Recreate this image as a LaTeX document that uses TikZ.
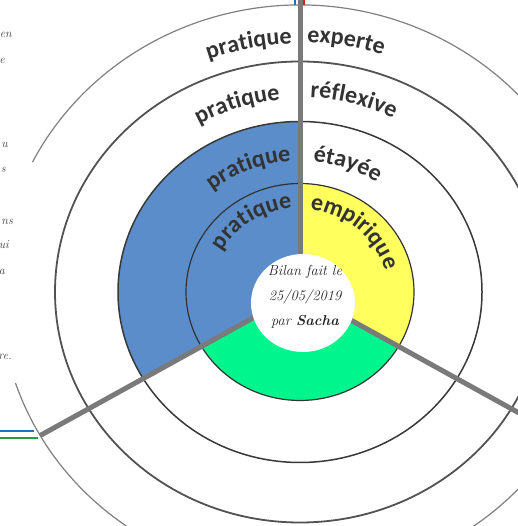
\documentclass[tikz,border=0pt]{standalone}
\usepackage{fontspec}
\setsansfont{Carlito}
\usetikzlibrary{calc,decorations.text}
\definecolor{bluefill}{HTML}{5B8DCA}
\definecolor{yellowfill}{HTML}{FFFF5E}
\definecolor{greenfill}{HTML}{00F58C}
\definecolor{txt}{HTML}{333333}
\definecolor{divgray}{HTML}{7A7A7A}
\definecolor{lineblue}{HTML}{2070C0}
\definecolor{linegreen}{HTML}{20A040}
\definecolor{linered}{HTML}{D02020}
\newcommand{\lblfont}{\sffamily\bfseries\fontsize{24}{28}\selectfont}
\tikzset{
  ringone/.style={draw=black!80, line width=1.2pt},
  ringtwo/.style={draw=black!78, line width=1.5pt},
  ringthree/.style={draw=black!68, line width=1.8pt},
  ringfour/.style={draw=black!50, line width=1.2pt},
  divider/.style={draw=divgray, line width=5pt},
  frag/.style={font=\itshape\fontsize{12}{14}\selectfont, text=black!75, anchor=east, inner sep=0pt},
  lblleft/.style 2 args={decorate, decoration={text along path, text={|\lblfont|#1}, text color=txt, text align={right, right indent=#2}}},
  lblright/.style 2 args={decorate, decoration={text along path, text={|\lblfont|#1}, text color=txt, text align={left, left indent=#2}}},
}
\begin{document}
\begin{tikzpicture}[x=1pt,y=1pt]
\useasboundingbox (0,0) rectangle (517,526);
\fill[white] (0,0) rectangle (517,526);
\coordinate (C) at (300,234);
% fills
\fill[bluefill] (C) -- ($(C)+(90:182pt and 170.5pt)$) arc[start angle=90,end angle=210,x radius=182pt,y radius=170.5pt] -- cycle;
\fill[yellowfill] (C) -- ($(C)+(-30:114pt and 108.5pt)$) arc[start angle=-30,end angle=90,x radius=114pt,y radius=108.5pt] -- cycle;
\fill[greenfill] (C) -- ($(C)+(210:114pt and 108.5pt)$) arc[start angle=210,end angle=330,x radius=114pt,y radius=108.5pt] -- cycle;
% rings
\draw[ringone] (C) ellipse[x radius=114pt,y radius=108.5pt];
\draw[ringtwo] (C) ellipse[x radius=182pt,y radius=170.5pt];
\draw[ringthree] (C) ellipse[x radius=245pt,y radius=230.5pt];
\draw[ringfour] ($(C)+(198.5:300pt and 287pt)$) arc[start angle=198.5,end angle=513.1,x radius=300pt,y radius=287pt];
% dividers
\coordinate (Ltop) at (300,526);
\coordinate (Lleft) at ($(C)+(210:300pt and 287pt)$);
\coordinate (Lright) at ($(C)+(330:300pt and 287pt)$);
\draw[divider] (C) -- (Ltop);
\draw[divider] (C) -- (Lleft);
\draw[divider] (C) -- (Lright);
% centre
\fill[white] (303,223) ellipse[x radius=52pt,y radius=49pt];
\node[align=center, font=\itshape\fontsize{14.5}{25}\selectfont, text=black!85] (centre) at (305,229) {Bilan fait le\\25/05/2019\\par \textbf{Sacha}};
% labels right
\path[lblright={experte}{7pt}] ($(C)+(90:{1.06*250pt} and 250pt)$) arc[start angle=90,end angle=0,x radius={1.06*250pt},y radius=250pt];
\path[lblright={réflexive}{10pt}] ($(C)+(90:{1.06*195pt} and 195pt)$) arc[start angle=90,end angle=0,x radius={1.06*195pt},y radius=195pt];
\path[lblright={étayée}{13pt}] ($(C)+(90:{1.06*131pt} and 131pt)$) arc[start angle=90,end angle=0,x radius={1.06*131pt},y radius=131pt];
\path[lblright={empirique}{10pt}] ($(C)+(90:{1.06*83pt} and 83pt)$) arc[start angle=90,end angle=-20,x radius={1.06*83pt},y radius=83pt];
% labels left
\path[lblleft={pratique}{8pt}] ($(C)+(200:{1.06*248pt} and 248pt)$) arc[start angle=200,end angle=90,x radius={1.06*248pt},y radius=248pt];
\path[lblleft={pratique}{20pt}] ($(C)+(200:{1.06*193pt} and 193pt)$) arc[start angle=200,end angle=90,x radius={1.06*193pt},y radius=193pt];
\path[lblleft={pratique}{9pt}] ($(C)+(200:{1.06*131pt} and 131pt)$) arc[start angle=200,end angle=90,x radius={1.06*131pt},y radius=131pt];
\path[lblleft={pratique}{8pt}] ($(C)+(210:{1.06*84pt} and 84pt)$) arc[start angle=210,end angle=90,x radius={1.06*84pt},y radius=84pt];
% left fragments
\node[frag] (f1) at (12,491) {en};
\node[frag] (f2) at (5,465) {e};
\node[frag] (f3) at (8,381) {u};
\node[frag] (f4) at (6,356) {s};
\node[frag] (f5) at (13,304) {ns};
\node[frag] (f6) at (9,281) {ui};
\node[frag] (f7) at (5,254) {a};
\node[frag] (f8) at (12,169) {re.};
% stray lines
\coordinate (b1) at (0,95); \coordinate (b2) at (34,95);
\coordinate (g1) at (0,88); \coordinate (g2) at (38,88);
\draw[lineblue, line width=2pt] (b1) -- (b2);
\draw[linegreen, line width=2pt] (g1) -- (g2);
\coordinate (t1) at (295,526); \coordinate (t2) at (295,521);
\coordinate (t3) at (304,526); \coordinate (t4) at (304,521);
\draw[lineblue, line width=1.5pt] (t1) -- (t2);
\draw[linered, line width=1.5pt] (t3) -- (t4);
\end{tikzpicture}
\end{document}
